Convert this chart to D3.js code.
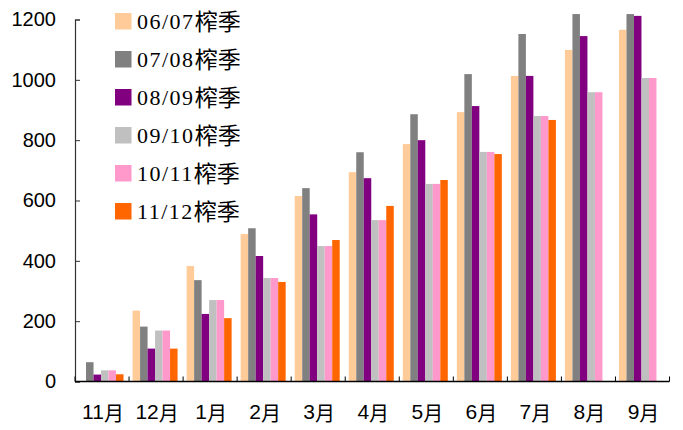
<!DOCTYPE html>
<html>
<head>
<meta charset="utf-8">
<script src="https://cdn.jsdelivr.net/npm/d3@7"></script>
<style>
  body { margin: 0; background: #fff; }
</style>
</head>
<body>
<div id="chart"></div>
<script>
// data
var months = ["11月", "12月", "1月", "2月", "3月", "4月", "5月", "6月", "7月", "8月", "9月"];
var seasons = ["06/07", "07/08", "08/09", "09/10", "10/11", "11/12"];
var s0607 = [null, 235, 383, 489, 615, 694, 787, 893, 1013, 1099, 1166];
var s0708 = [64, 182, 336, 508, 641, 760, 886, 1019, 1152, 1218, 1218];
var s0809 = [23, 109, 224, 416, 554, 674, 800, 913, 1013, 1145, 1212];
var s0910 = [37, 169, 270, 343, 449, 535, 655, 761, 880, 959, 1006];
var s1011 = [37, 169, 270, 343, 449, 535, 655, 761, 880, 959, 1006];
var s1112 = [24, 109, 210, 330, 469, 582, 668, 754, 867, null, null];
var yTicks = [0, 200, 400, 600, 800, 1000, 1200];
var colors = ["#FFCC99", "#808080", "#800080", "#C0C0C0", "#FF99CC", "#FF6600"];

var seriesValues = [s0607, s0708, s0809, s0910, s1011, s1112];

// dimensions
var margin = {top: 19.5, right: 13.5, bottom: 48.5, left: 75},
    width = 683 - margin.left - margin.right,
    height = 430 - margin.top - margin.bottom;

var svg = d3.select("#chart")
  .append("svg")
    .attr("width", 683)
    .attr("height", 430)
  .append("g")
    .attr("transform", "translate(" + margin.left + "," + margin.top + ")");

// scales
var x0 = d3.scaleBand()
    .domain(months)
    .range([0, width])
    .padding(0);

var groupW = 45;
var x1 = d3.scaleBand()
    .domain(seasons)
    .range([0, groupW]);
var groupOffset = (x0.bandwidth() - groupW) / 2 - 1;

var y = d3.scaleLinear()
    .domain([0, 1200])
    .range([height, 0]);

// bars
months.forEach(function(m, i) {
  var g = svg.append("g")
    .attr("transform", "translate(" + (x0(m) + groupOffset) + ",0)");
  seasons.forEach(function(s, k) {
    var v = seriesValues[k][i];
    if (v == null) return;
    g.append("rect")
      .attr("x", x1(s))
      .attr("y", y(v))
      .attr("width", x1.bandwidth())
      .attr("height", height - y(v))
      .attr("fill", colors[k]);
  });
});

// y axis, ticks pointing inward
var yAxis = svg.append("g")
  .call(d3.axisLeft(y).tickValues(yTicks).tickFormat(d3.format("d")).tickSize(-5).tickPadding(19))
yAxis.select(".domain").attr("stroke", "#333").attr("stroke-width", 1.2);
yAxis.selectAll(".tick line").attr("stroke", "#333");
yAxis.selectAll("text")
  .style("font-family", "'Liberation Sans', Arial, sans-serif")
  .style("font-size", "20px")
  .attr("fill", "#000");

// x axis: boundary ticks between months
var xAxis = svg.append("g")
  .attr("transform", "translate(0," + height + ")");
xAxis.append("line")
  .attr("x1", 0).attr("x2", width)
  .attr("stroke", "#000").attr("stroke-width", 1.5);
xAxis.selectAll(".bt")
  .data(months.concat([null]))
  .enter().append("line")
    .attr("class", "bt")
    .attr("x1", function(d) { return d == null ? width : x0(d); })
    .attr("x2", function(d) { return d == null ? width : x0(d); })
    .attr("y1", 0).attr("y2", -5)
    .attr("stroke", "#000");

xAxis.selectAll(".xl")
  .data(months)
  .enter().append("text")
    .attr("class", "xl")
    .attr("x", function(d) { return x0(d) + x0.bandwidth() / 2 + 1; })
    .attr("y", 37)
    .attr("text-anchor", "middle")
    .style("font-family", "'Liberation Sans', Arial, sans-serif")
    .style("font-size", "21px")
    .each(function(d) {
      var t = d3.select(this);
      t.append("tspan").text(d.replace("月", ""));
      t.append("tspan")
        .style("font-family", "'Noto Sans CJK SC', sans-serif")
        .style("font-size", "20px")
        .attr("dy", 2)
        .text("月");
    });

// legend
var legend = d3.select("svg").append("g")
  .attr("transform", "translate(115,13)");
seasons.forEach(function(s, k) {
  var row = legend.append("g").attr("transform", "translate(0," + (k * 38) + ")");
  row.append("rect")
    .attr("width", 16.5).attr("height", 16.5)
    .attr("fill", colors[k]);
  var t = row.append("text")
    .attr("x", 22)
    .attr("y", 16)
    .attr("fill", "#000");
  t.append("tspan")
    .style("font-family", "'Liberation Serif', 'Times New Roman', serif")
    .style("font-size", "22px")
    .style("letter-spacing", "1.5px")
    .text(s);
  t.append("tspan")
    .style("font-family", "'Noto Sans CJK SC', sans-serif")
    .style("font-size", "23px")
    .attr("dy", 1)
    .text("榨季");
});
</script>
</body>
</html>
